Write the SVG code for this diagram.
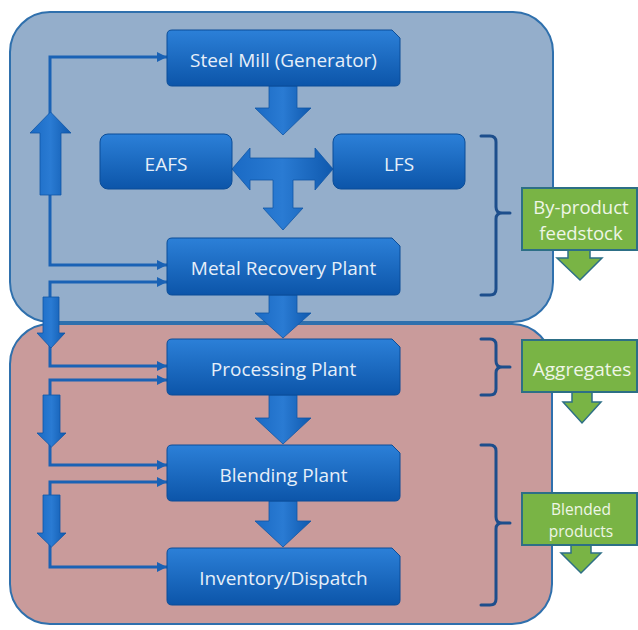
<svg xmlns="http://www.w3.org/2000/svg" width="638" height="630" viewBox="0 0 638 630">
<defs>
  <linearGradient id="gBlue" x1="0" y1="0" x2="0" y2="1">
    <stop offset="0" stop-color="#2c80d8"/>
    <stop offset="1" stop-color="#0c55a9"/>
  </linearGradient>
  <linearGradient id="gArrow" x1="0" y1="0" x2="1" y2="0">
    <stop offset="0" stop-color="#1a6ac4"/>
    <stop offset="0.5" stop-color="#2a7bd3"/>
    <stop offset="1" stop-color="#0f59ae"/>
  </linearGradient>
  <marker id="ah" viewBox="0 0 10 10" refX="10" refY="5" markerWidth="10" markerHeight="10" markerUnits="userSpaceOnUse" orient="auto-start-reverse">
    <path d="M0,0 L10,5 L0,10 Z" fill="#1a62b5"/>
  </marker>
  <style>
    .node{fill:url(#gBlue);stroke:#0b4d98;stroke-width:1}
    .ntxt{font-family:"Open Sans","Liberation Sans",sans-serif;font-size:19px;fill:#e6eff9;text-anchor:middle}
    .blk{fill:url(#gArrow);stroke:#0f55a6;stroke-width:0.8}
    .ln{fill:none;stroke:#1a62b5;stroke-width:3}
    .br{fill:none;stroke:#1d4e8c;stroke-width:3;stroke-linecap:round}
    .gbox{fill:#79b445;stroke:#2d6f86;stroke-width:2}
    .garr{fill:#79b445;stroke:#2d6f86;stroke-width:1.5}
    .gtxt{font-family:"Open Sans","Liberation Sans",sans-serif;fill:#eef6e6;text-anchor:middle}
  </style>
</defs>
<rect width="638" height="630" fill="#ffffff"/>
<g id="container-top"><rect x="10" y="12" width="543" height="310" rx="40" fill="#94aecb" stroke="#2f70ad" stroke-width="2"/></g>
<g id="container-bottom"><rect x="10" y="324" width="542" height="300" rx="40" fill="#c99b9b" stroke="#2f70ad" stroke-width="2"/></g>

<g id="connectors">
  <path class="ln" d="M167,265 H50 V57 H167" marker-start="url(#ah)" marker-end="url(#ah)"/>
  <path class="ln" d="M167,282 H50 V366 H167" marker-start="url(#ah)" marker-end="url(#ah)"/>
  <path class="ln" d="M167,380 H50 V465 H167" marker-start="url(#ah)" marker-end="url(#ah)"/>
  <path class="ln" d="M167,482 H50 V567 H167" marker-start="url(#ah)" marker-end="url(#ah)"/>
  <path class="blk" d="M40,195 V133 H30 L50.5,112 L71,133 H61 V195 Z"/>
  <path class="blk" d="M43,297 H59 V333 H65 L51,348 L37,333 H43 Z"/>
  <path class="blk" d="M43,395 H60 V433 H66 L51.5,447 L37,433 H43 Z"/>
  <path class="blk" d="M43,495 H60 V533 H66 L51.5,547 L37,533 H43 Z"/>
  <path class="blk" d="M269,86 H297 V108 H311 L283,135 L255,108 H269 Z"/>
  <path class="blk" d="M232,169 L250,148 V158 H315 V148 L333,169 L315,190 V180 H293 V208 H303 L283,230 L263,208 H273 V180 H250 V190 Z"/>
  <path class="blk" d="M269,295 H297 V313 H311 L283,338 L255,313 H269 Z"/>
  <path class="blk" d="M269,395 H297 V418 H311 L283,444 L255,418 H269 Z"/>
  <path class="blk" d="M269,501 H297 V521 H311 L283,547 L255,521 H269 Z"/>
  <path class="br" d="M481,136 H490 Q496,136 496,142 V207 Q496,213 502,213 H510 M502,213 Q496,213 496,219 V289 Q496,295 490,295 H481"/>
  <path class="br" d="M481,339 H490 Q496,339 496,345 V361 Q496,367 502,367 H510 M502,367 Q496,367 496,373 V389 Q496,395 490,395 H481"/>
  <path class="br" d="M481,445 H490 Q496,445 496,451 V517 Q496,523 502,523 H510 M502,523 Q496,523 496,529 V599 Q496,605 490,605 H481"/>
</g>

<g id="steel-mill"><path class="node" d="M172,30 H392 L400,38 V81 Q400,86 395,86 H172 Q167,86 167,81 V35 Q167,30 172,30 Z"/><text class="ntxt" x="283.5" y="67">Steel Mill (Generator)</text></g>
<g id="eafs"><rect class="node" x="100" y="134" width="132" height="55" rx="8"/><text class="ntxt" x="166" y="171">EAFS</text></g>
<g id="lfs"><rect class="node" x="333" y="134" width="132" height="55" rx="8"/><text class="ntxt" x="399" y="171">LFS</text></g>
<g id="metal-recovery"><path class="node" d="M172,238 H392 L400,246 V290 Q400,295 395,295 H172 Q167,295 167,290 V243 Q167,238 172,238 Z"/><text class="ntxt" x="283.5" y="275">Metal Recovery Plant</text></g>
<g id="processing"><path class="node" d="M172,339 H392 L400,347 V390 Q400,395 395,395 H172 Q167,395 167,390 V344 Q167,339 172,339 Z"/><text class="ntxt" x="283.5" y="376">Processing Plant</text></g>
<g id="blending"><path class="node" d="M172,445 H392 L400,453 V496 Q400,501 395,501 H172 Q167,501 167,496 V450 Q167,445 172,445 Z"/><text class="ntxt" x="283.5" y="482">Blending Plant</text></g>
<g id="inventory"><path class="node" d="M172,548 H392 L400,556 V600 Q400,605 395,605 H172 Q167,605 167,600 V553 Q167,548 172,548 Z"/><text class="ntxt" x="283.5" y="585">Inventory/Dispatch</text></g>

<g id="byproduct">
  <path class="garr" d="M568,249 H590 V258 H602 L580,280 L557,258 H568 Z"/>
  <rect class="gbox" x="522" y="188" width="115" height="62"/>
  <text class="gtxt" x="581" y="214" font-size="18.5">By-product</text>
  <text class="gtxt" x="581" y="240" font-size="18.5">feedstock</text>
</g>
<g id="aggregates">
  <path class="garr" d="M572,391 H592 V402 H601 L582,423 L563,402 H572 Z"/>
  <rect class="gbox" x="522" y="340" width="115" height="52"/>
  <text class="gtxt" x="582" y="376" font-size="19">Aggregates</text>
</g>
<g id="blended">
  <path class="garr" d="M571,544 H591 V553 H601 L581,573 L561,553 H571 Z"/>
  <rect class="gbox" x="522" y="493" width="115" height="52"/>
  <text class="gtxt" x="581" y="515" font-size="15.5">Blended</text>
  <text class="gtxt" x="581" y="537" font-size="15.5">products</text>
</g>
</svg>
